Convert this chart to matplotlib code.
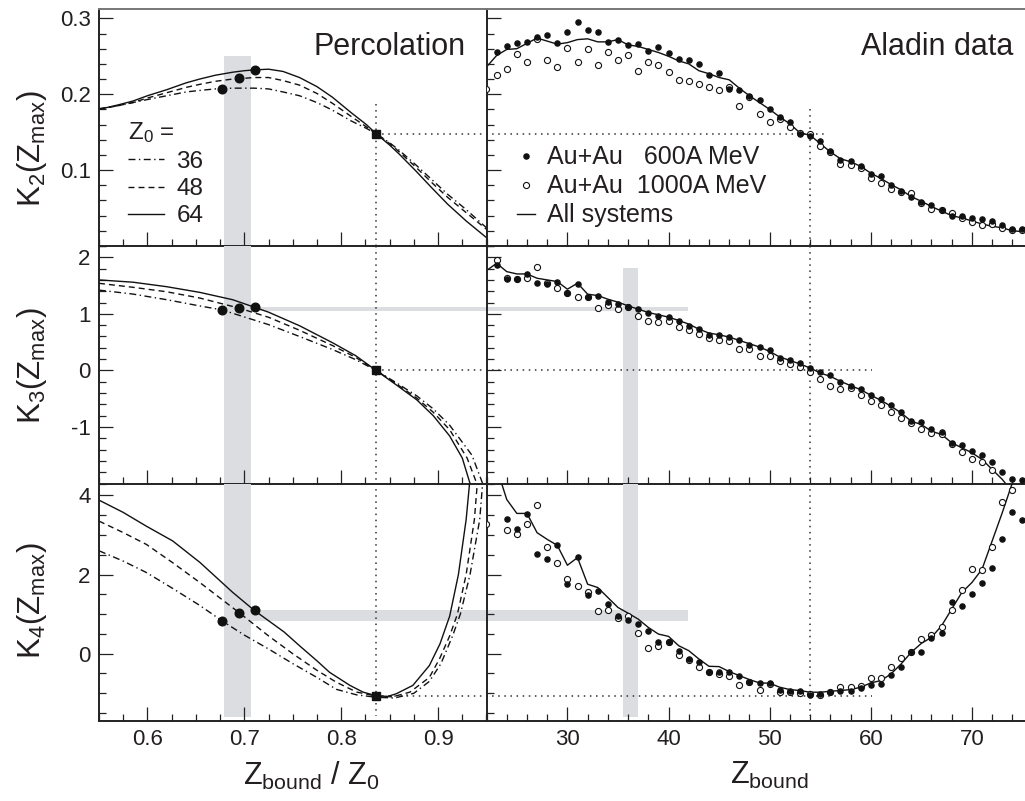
import numpy as np
import matplotlib
matplotlib.use('Agg')
import matplotlib.pyplot as plt
from matplotlib.ticker import MultipleLocator, FixedLocator
from matplotlib.lines import Line2D

plt.rcParams['font.family'] = ['Liberation Sans', 'DejaVu Sans']
plt.rcParams['mathtext.fontset'] = 'custom'
plt.rcParams['mathtext.rm'] = 'Liberation Sans'
plt.rcParams['mathtext.it'] = 'Liberation Sans:italic'
plt.rcParams['mathtext.bf'] = 'Liberation Sans:bold'
plt.rcParams['axes.unicode_minus'] = False

nan = np.nan

# ---------------- Percolation (left column) ----------------
k2_x = [0.55, 0.57, 0.585, 0.60, 0.62, 0.64, 0.654, 0.67, 0.688, 0.70, 0.71, 0.725, 0.74,
        0.757, 0.775, 0.791, 0.81, 0.826, 0.836, 0.85, 0.86, 0.877, 0.894, 0.91, 0.929, 0.95]
k2_z64 = [0.180, 0.186, 0.191, 0.198, 0.206, 0.215, 0.220, 0.225, 0.229, 0.231, 0.232, 0.233, 0.230,
          0.222, 0.210, 0.196, 0.176, 0.160, 0.148, 0.133, 0.121, 0.099, 0.076, 0.055, 0.033, 0.011]
k2_z48 = [0.180, 0.185, 0.189, 0.195, 0.202, 0.209, 0.213, 0.217, 0.220, 0.221, 0.222, 0.222, 0.218,
          0.212, 0.201, 0.188, 0.171, 0.157, 0.148, 0.135, 0.124, 0.104, 0.083, 0.064, 0.044, 0.022]
k2_z36 = [0.181, 0.185, 0.189, 0.193, 0.198, 0.203, 0.205, 0.207, 0.208, 0.208, 0.208, 0.207, 0.203,
          0.198, 0.189, 0.179, 0.165, 0.155, 0.148, 0.136, 0.126, 0.107, 0.087, 0.068, 0.048, 0.024]

k3_x64 = [0.55, 0.585, 0.62, 0.654, 0.688, 0.71, 0.725, 0.757, 0.791, 0.815, 0.836, 0.858, 0.878,
          0.895, 0.912, 0.925, 0.933]
k3_z64 = [1.60, 1.56, 1.48, 1.38, 1.25, 1.12, 1.03, 0.79, 0.49, 0.26, 0.0, -0.27, -0.52,
          -0.80, -1.16, -1.55, -2.0]
k3_x48 = [0.55, 0.585, 0.62, 0.654, 0.695, 0.725, 0.757, 0.791, 0.815, 0.836, 0.858, 0.878, 0.895,
          0.912, 0.93, 0.94]
k3_z48 = [1.54, 1.47, 1.39, 1.28, 1.10, 0.94, 0.71, 0.44, 0.23, 0.0, -0.25, -0.49, -0.74,
          -1.05, -1.55, -2.0]
k3_x36 = [0.55, 0.585, 0.62, 0.654, 0.677, 0.725, 0.757, 0.791, 0.815, 0.836, 0.858, 0.878, 0.895,
          0.912, 0.935, 0.946]
k3_z36 = [1.42, 1.35, 1.25, 1.14, 1.07, 0.81, 0.60, 0.37, 0.19, 0.0, -0.23, -0.45, -0.68,
          -0.97, -1.5, -2.0]

k4_x64 = [0.55, 0.575, 0.599, 0.626, 0.654, 0.688, 0.71, 0.741, 0.758, 0.775, 0.788, 0.809, 0.8225,
          0.836, 0.848, 0.857, 0.874, 0.891, 0.902, 0.912, 0.921, 0.929, 0.9325]
k4_z64 = [3.88, 3.57, 3.22, 2.85, 2.31, 1.55, 1.10, 0.55, 0.18, -0.18, -0.47, -0.80, -0.97,
          -1.06, -1.08, -1.01, -0.80, -0.30, 0.25, 0.95, 2.0, 3.39, 4.3]
k4_x48 = [0.55, 0.575, 0.599, 0.626, 0.654, 0.695, 0.725, 0.75, 0.775, 0.795, 0.816, 0.836, 0.853,
          0.871, 0.891, 0.9015, 0.912, 0.920, 0.929, 0.9375, 0.9405]
k4_z48 = [3.35, 3.06, 2.76, 2.30, 1.80, 1.03, 0.45, 0.0, -0.42, -0.72, -0.97, -1.07, -1.09,
          -0.97, -0.60, -0.13, 0.45, 1.0, 2.0, 3.39, 4.3]
k4_x36 = [0.55, 0.575, 0.599, 0.626, 0.654, 0.677, 0.70, 0.725, 0.75, 0.775, 0.795, 0.816, 0.836,
          0.855, 0.875, 0.891, 0.903, 0.915, 0.923, 0.933, 0.943, 0.946]
k4_z36 = [2.60, 2.34, 2.05, 1.65, 1.22, 0.83, 0.47, 0.12, -0.25, -0.60, -0.90, -1.04, -1.10,
          -1.12, -1.0, -0.70, -0.25, 0.45, 1.0, 2.0, 3.39, 4.3]

dot_x = [0.677, 0.695, 0.711]
dot_k2 = [0.207, 0.221, 0.232]
dot_k3 = [1.07, 1.10, 1.12]
dot_k4 = [0.83, 1.03, 1.10]

crit_x = 0.836
crit_z = 54.0
crit_k = [0.148, 0.0, -1.06]

# ---------------- Aladin data (right column) ----------------
zb = list(range(22, 76))
k2_600 = [nan, 0.255, 0.264, 0.267, 0.269, 0.275, 0.278, 0.267, 0.282,
          0.295, 0.285, 0.282, 0.269, 0.272, 0.265, 0.266, 0.257, 0.262, 0.254,
          0.247, 0.245, 0.240, 0.225, 0.228, 0.207, 0.205, 0.197, 0.192, 0.181,
          0.170, 0.164, 0.148, 0.145, 0.138, 0.125, 0.113, 0.112, 0.105, 0.095,
          0.092, 0.081, 0.073, 0.064, 0.058, 0.054, 0.048, 0.039, 0.039, 0.037,
          0.035, 0.033, 0.028, 0.022, 0.023]
k2_1000 = [0.207, 0.225, 0.233, 0.253, 0.242, 0.273, 0.245, 0.236, 0.261, 0.243,
           0.260, 0.238, 0.255, 0.245, 0.252, 0.230, 0.243, 0.239, 0.229, 0.219,
           0.217, 0.214, 0.209, 0.205, 0.210, 0.185, 0.196, 0.174, 0.164, 0.168,
           0.157, 0.149, 0.148, 0.132, 0.124, 0.108, 0.107, 0.103, 0.090, 0.083,
           0.075, 0.071, 0.070, 0.057, 0.049, 0.048, 0.043, 0.037, 0.032, 0.028,
           0.029, 0.024, 0.021, 0.021]
k2_all = [0.236, 0.251, 0.259, 0.260, 0.267, 0.274, 0.270, 0.266, 0.268, 0.272,
          0.273, 0.269, 0.269, 0.272, 0.265, 0.263, 0.259, 0.255, 0.250, 0.244,
          0.240, 0.231, 0.227, 0.222, 0.219, 0.208, 0.198, 0.189, 0.180, 0.170,
          0.161, 0.149, 0.146, 0.135, 0.124, 0.115, 0.111, 0.105, 0.096, 0.089,
          0.081, 0.074, 0.065, 0.059, 0.052, 0.046, 0.040, 0.037, 0.033, 0.029,
          0.026, 0.024, 0.020, 0.019]

k3_600 = [nan, 1.865, 1.618, 1.612, 1.706, 1.542, 1.524, 1.559, 1.365, 1.524,
          1.306, 1.318, 1.218, 1.171, 1.118, 1.083, 1.024, 0.965, 0.936, 0.877,
          0.777, 0.736, 0.630, 0.619, 0.589, 0.530, 0.454, 0.407, 0.366, 0.219,
          0.178, 0.131, 0.043, -0.034, -0.075, -0.204, -0.269, -0.328, -0.428, -0.498,
          -0.616, -0.734, -0.898, -0.916, -1.045, -1.092, -1.280, -1.327, -1.427, -1.498,
          -1.621, -1.798, -1.916, -1.945]
k3_1000 = [nan, 1.953, 1.630, 1.612, 1.630, 1.824, 1.553, 1.453, 1.377, 1.306,
           1.306, 1.112, 1.159, 1.089, 1.130, 0.954, 0.865, 0.848, 0.865, 0.760,
           0.719, 0.642, 0.572, 0.542, 0.525, 0.378, 0.378, 0.248, 0.248, 0.172,
           0.119, 0.060, -0.028, -0.146, -0.269, -0.328, -0.310, -0.428, -0.546, -0.604,
           -0.734, -0.839, -0.928, -1.045, -1.104, -1.133, -1.310, -1.439, -1.574, -1.621,
           -1.762, nan, nan, nan]
k3_all = [1.765, 1.894, 1.747, 1.706, 1.706, 1.630, 1.600, 1.571, 1.436, 1.542,
          1.348, 1.324, 1.259, 1.207, 1.142, 1.083, 1.024, 0.983, 0.942, 0.883,
          0.819, 0.730, 0.660, 0.630, 0.589, 0.530, 0.472, 0.413, 0.336, 0.236,
          0.178, 0.113, 0.043, -0.046, -0.105, -0.193, -0.269, -0.340, -0.440, -0.528,
          -0.634, -0.751, -0.898, -0.957, -1.075, -1.133, -1.280, -1.368, -1.457, -1.574,
          -1.751, -1.927, -2.15, nan]

k4_600 = [nan, nan, 3.393, 3.158, 3.519, 2.512, 2.386, 2.747, 1.773, 2.444,
          1.487, 1.588, 1.252, 0.958, 0.849, 0.748, 0.580, 0.287, 0.303, 0.077,
          -0.133, -0.217, -0.469, -0.469, -0.469, -0.570, -0.704, -0.738, -0.746, -0.914,
          -0.948, -0.948, -1.040, -1.015, -0.973, -0.931, -0.931, -0.864, -0.780, -0.763,
          -0.528, -0.343, 0.035, 0.035, 0.387, 0.522, 1.311, 1.193, 1.521, 1.798,
          2.159, 2.906, 3.586, 3.376]
k4_1000 = [3.267, nan, 3.116, 3.015, 3.284, 3.746, 2.705, 2.302, 1.882, 1.714,
           1.563, 1.084, 1.101, 0.891, 0.942, 0.513, 0.144, 0.186, 0.287, -0.032,
           -0.158, -0.343, -0.452, -0.511, -0.570, -0.780, -0.704, -0.906, -0.763, -0.956,
           -0.973, -0.998, -1.015, -1.040, -0.973, -0.830, -0.847, -0.822, -0.620, -0.603,
           -0.343, -0.116, 0.035, 0.371, 0.480, 0.681, 1.109, 1.605, 2.151, 2.109,
           2.705, 3.830, 4.132, nan]
k4_all = [nan, 4.7, 3.897, 3.544, 3.544, 3.057, 2.889, 2.738, 2.235, 2.428,
          1.756, 1.672, 1.420, 1.168, 1.025, 0.874, 0.664, 0.496, 0.438, 0.203,
          0.077, -0.133, -0.318, -0.326, -0.452, -0.553, -0.654, -0.738, -0.746, -0.847,
          -0.906, -0.931, -0.973, -0.973, -0.948, -0.931, -0.906, -0.847, -0.738, -0.679,
          -0.511, -0.259, 0.035, 0.261, 0.413, 0.706, 1.126, 1.546, 1.798, 2.134,
          2.847, 3.561, 4.317, nan]

# highlight bands / reference lines
band_left_x = [0.679, 0.7074]
band_right_z = [35.5, 37.0]
band_k3 = [1.054, 1.130]
band_k4 = [0.832, 1.101]
band_end_z = 41.9
band_top = [0.251, 1.806]
band_bottom = -1.60
dot_h_end = [55.7, 60.1, 60.1]
dot_v_top = [0.187, 0.180]
dot_v_bottom = -1.57

# ---------------- figure ----------------
TXT = '#231f20'
LC = '#111111'
BAND = '#dcdde0'
fig = plt.figure(figsize=(10.25, 8.01), dpi=100)
Lx, Lw = 99 / 1025, 387.5 / 1025
Rx = 486.5 / 1025
Rw = 1 - Rx
rows = [(1 - 246 / 801, 237 / 801), (1 - 483.5 / 801, 237.5 / 801), (1 - 721 / 801, 237.5 / 801)]
axL = [fig.add_axes([Lx, b, Lw, h]) for b, h in rows]
axR = [fig.add_axes([Rx, b, Rw, h]) for b, h in rows]

ylims = [(0, 0.3123), (-2.0, 2.2), (-1.7, 4.3)]
ymaj = [[0.1, 0.2, 0.3], [-1, 0, 1, 2], [0, 2, 4]]
ymin = [0.02, 0.2, 0.5]

for i in range(3):
    for side, ax in (('L', axL[i]), ('R', axR[i])):
        for s in ['top', 'right', 'left', 'bottom']:
            ax.spines[s].set_linewidth(1.4)
            ax.spines[s].set_color('#222222')
        ax.spines['right'].set_visible(False)
        ax.spines['top'].set_visible(i == 0)
        if i == 0:
            ax.spines['top'].set_color('#777777')
        ax.set_ylim(*ylims[i])
        ax.yaxis.set_major_locator(FixedLocator(ymaj[i]))
        ax.yaxis.set_minor_locator(MultipleLocator(ymin[i]))
        if side == 'L':
            ax.set_xlim(0.55, 0.95)
            ax.xaxis.set_major_locator(FixedLocator([0.6, 0.7, 0.8, 0.9]))
            ax.xaxis.set_minor_locator(MultipleLocator(0.025))
        else:
            ax.set_xlim(22, 75.25)
            ax.xaxis.set_major_locator(FixedLocator([30, 40, 50, 60, 70]))
            ax.xaxis.set_minor_locator(MultipleLocator(2))
        ax.tick_params(which='both', direction='in', top=False, right=False,
                       colors='#222222', labelcolor=TXT, labelsize=16)
        ax.tick_params(which='major', length=10, width=0.9, pad=6)
        ax.tick_params(which='minor', length=5, width=0.9)
        ax.tick_params(axis='y', labelleft=(side == 'L'))
        ax.tick_params(axis='x', labelbottom=(i == 2), pad=6)
        ax.set_facecolor('none')

# ---- bands ----
axL[0].fill_between(band_left_x, 0, band_top[0], color=BAND, lw=0, zorder=0.5)
axL[1].fill_between(band_left_x, -2.0, 2.2, color=BAND, lw=0, zorder=0.5)
axL[2].fill_between(band_left_x, band_bottom, 4.3, color=BAND, lw=0, zorder=0.5)
axL[1].fill_between([band_left_x[1], 0.95], band_k3[0], band_k3[1], color=BAND, lw=0, zorder=0.5)
axL[2].fill_between([band_left_x[1], 0.95], band_k4[0], band_k4[1], color=BAND, lw=0, zorder=0.5)
axR[1].fill_between([22, band_end_z], band_k3[0], band_k3[1], color=BAND, lw=0, zorder=0.5)
axR[2].fill_between([22, band_end_z], band_k4[0], band_k4[1], color=BAND, lw=0, zorder=0.5)
axR[1].fill_between(band_right_z, -2.0, band_top[1], color=BAND, lw=0, zorder=0.5)
axR[2].fill_between(band_right_z, band_bottom, 4.3, color=BAND, lw=0, zorder=0.5)

# ---- dotted reference lines ----
dot_kw = dict(color='#333333', lw=1.1, ls=(0, (1, 3)), zorder=1)
axL[0].plot([crit_x, crit_x], [dot_v_top[0], 0], **dot_kw)
axL[1].plot([crit_x, crit_x], [2.2, -2.0], **dot_kw)
axL[2].plot([crit_x, crit_x], [4.3, dot_v_bottom], **dot_kw)
axR[0].plot([crit_z, crit_z], [dot_v_top[1], 0], **dot_kw)
axR[1].plot([crit_z, crit_z], [2.2, -2.0], **dot_kw)
axR[2].plot([crit_z, crit_z], [4.3, dot_v_bottom], **dot_kw)
for i in range(3):
    axL[i].plot([crit_x, 0.95], [crit_k[i], crit_k[i]], **dot_kw)
    axR[i].plot([22, dot_h_end[i]], [crit_k[i], crit_k[i]], **dot_kw)

# ---- percolation curves ----
ls36 = (0, (5, 2.5, 1, 2.5))
ls48 = (0, (4.3, 2.9))
curve_kw = dict(color=LC, lw=1.0, zorder=2)
axL[0].plot(k2_x, k2_z36, ls=ls36, **curve_kw)
axL[0].plot(k2_x, k2_z48, ls=ls48, **curve_kw)
axL[0].plot(k2_x, k2_z64, ls='-', **curve_kw)
axL[1].plot(k3_x36, k3_z36, ls=ls36, **curve_kw)
axL[1].plot(k3_x48, k3_z48, ls=ls48, **curve_kw)
axL[1].plot(k3_x64, k3_z64, ls='-', **curve_kw)
axL[2].plot(k4_x36, k4_z36, ls=ls36, **curve_kw)
axL[2].plot(k4_x48, k4_z48, ls=ls48, **curve_kw)
axL[2].plot(k4_x64, k4_z64, ls='-', **curve_kw)
for ax, dv, ck in zip(axL, [dot_k2, dot_k3, dot_k4], crit_k):
    ax.plot(dot_x, dv, 'o', color=LC, ms=6.2, zorder=3, clip_on=False)
    ax.plot([crit_x], [ck], 's', color=LC, ms=5.5, zorder=3)

# ---- Aladin data ----
for ax, a600, a1000, aall in zip(axR, [k2_600, k3_600, k4_600],
                                 [k2_1000, k3_1000, k4_1000], [k2_all, k3_all, k4_all]):
    ax.plot(zb, aall, '-', color=LC, lw=1.0, zorder=2)
    ax.plot(zb, a1000, 'o', mfc='white', mec=LC, mew=0.8, ms=4.4, zorder=3)
    ax.plot(zb, a600, 'o', color=LC, ms=3.7, zorder=4)

# ---- texts ----
axL[0].text(0.946, 0.806, 'Percolation', ha='right', va='baseline', fontsize=22,
            color=TXT, transform=axL[0].transAxes)
axR[0].text(0.978, 0.806, 'Aladin data', ha='right', va='baseline', fontsize=22,
            color=TXT, transform=axR[0].transAxes)

ylabs = ['K$_2$(Z$_{\\rm max}$)', 'K$_3$(Z$_{\\rm max}$)', 'K$_4$(Z$_{\\rm max}$)']
ylab_y = [0.411, 0.495, 0.505]
for ax, lab, yy in zip(axL, ylabs, ylab_y):
    ax.set_ylabel(lab, fontsize=22.5, color=TXT)
    ax.yaxis.set_label_coords(-0.128, yy)

axL[2].set_xlabel('Z$_{\\rm bound}$ / Z$_0$', fontsize=22, color=TXT)
axL[2].xaxis.set_label_coords(0.547, -0.165)
axR[2].set_xlabel('Z$_{\\rm bound}$', fontsize=22, color=TXT)
axR[2].xaxis.set_label_coords(0.525, -0.165)

# ---- legends ----
hL = [Line2D([], [], color=LC, lw=1.0, ls=ls36),
      Line2D([], [], color=LC, lw=1.0, ls=ls48),
      Line2D([], [], color=LC, lw=1.0, ls='-')]
legL = axL[0].legend(hL, ['36', '48', '64'], title='Z$_0$ =', loc='upper left',
                     bbox_to_anchor=(0.062, 0.55), frameon=False, fontsize=17.5,
                     title_fontsize=17.5, handlelength=1.5, handletextpad=0.5,
                     labelspacing=0.22, borderpad=0.2, borderaxespad=0, alignment='left')
for t in legL.get_texts():
    t.set_color(TXT)
legL.get_title().set_color(TXT)

hR = [Line2D([], [], ls='none', marker='o', color=LC, ms=3.7),
      Line2D([], [], ls='none', marker='o', mfc='white', mec=LC, mew=0.8, ms=4.4),
      Line2D([], [], color=LC, lw=1.0)]
legR = axR[0].legend(hR, ['Au+Au   600A MeV', 'Au+Au  1000A MeV', 'All systems'],
                     loc='upper left', bbox_to_anchor=(0.056, 0.425), frameon=False,
                     fontsize=18, handlelength=0.75, handletextpad=0.45,
                     labelspacing=0.2, borderpad=0, borderaxespad=0)
for t in legR.get_texts():
    t.set_color(TXT)

fig.savefig('out.png', dpi=100)
